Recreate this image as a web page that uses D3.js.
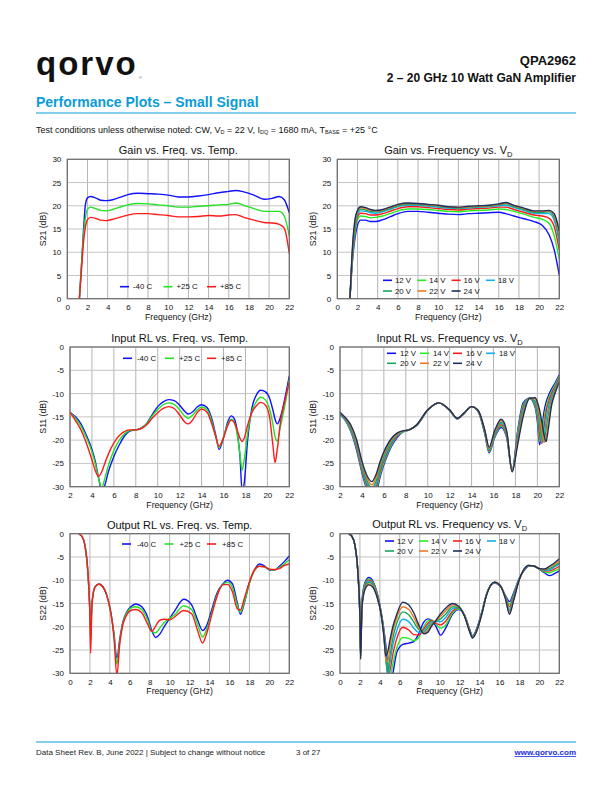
<!DOCTYPE html>
<html><head><meta charset="utf-8">
<script src="https://cdn.jsdelivr.net/npm/d3@7"></script>
<style>
body{margin:0;background:#fff}
svg{display:block}
text{font-family:"Liberation Sans",Arial,Helvetica,sans-serif}
</style>
</head><body>
<svg id="page" width="612" height="792"></svg>
<script>
// ---------------- DATA ----------------
const TEMP_LABELS = ['-40 C', '+25 C', '+85 C'];
const VD_LABELS = ['12 V', '14 V', '16 V', '18 V', '20 V', '22 V', '24 V'];
const X_TICKS_0 = [0, 2, 4, 6, 8, 10, 12, 14, 16, 18, 20, 22];
const X_TICKS_2 = [2, 4, 6, 8, 10, 12, 14, 16, 18, 20, 22];
const Y_TICKS_GAIN = [0, 5, 10, 15, 20, 25, 30];
const Y_TICKS_RL = [-30, -25, -20, -15, -10, -5, 0];

// Gain vs. Freq. vs. Temp.
const gtFreq = [1.0,1.2,1.4,1.6,1.8,2.0,2.3,2.8,3.3,3.8,4.5,5.2,6,7,8,9,10,11,12,13,14,15,16,16.7,17.5,18.5,19.5,20.3,21,21.5,22];
const gtM40 = [-8,0,7,14.5,20.3,21.7,22.0,21.7,21.2,21.1,21.3,21.8,22.4,22.7,22.6,22.5,22.3,21.9,21.9,22.1,22.4,22.8,23.1,23.3,23.0,22.3,21.4,21.6,22.0,21.3,18.5];
const gtP25 = [-8,0,7,13.5,17.5,19.2,19.7,19.4,19.0,18.9,19.2,19.7,20.2,20.5,20.4,20.2,20.0,19.7,19.7,19.9,20.0,20.2,20.3,20.6,20.1,19.4,18.8,18.8,18.8,17.8,13.5];
const gtP85 = [-8,0,6,12,15.5,17.0,17.5,17.3,16.9,16.8,17.1,17.5,18.0,18.3,18.3,18.1,17.9,17.6,17.6,17.7,17.9,17.8,18.0,18.1,17.5,16.9,16.4,16.3,16.0,15.2,9.7];

// Gain vs. Frequency vs. VD
const gvFreq = [1.0,1.25,1.5,1.75,2.0,2.3,2.8,3.3,3.8,4.5,5.2,6,7,8,9,10,11,12,13,14,15,16,16.7,17.5,18.5,19.5,20.3,21,21.5,22];
const gv12 = [-8,0,8,13,15.8,16.9,16.9,16.6,16.6,17.0,17.6,18.3,18.8,18.8,18.6,18.4,18.2,18.1,18.3,18.4,18.5,18.6,18.3,17.8,17.2,16.6,15.8,13.7,10.5,5.0];
const gv14 = [-8,0,8.5,14,17,17.8,17.7,17.4,17.5,17.8,18.3,18.9,19.3,19.3,19.2,19.0,18.8,18.7,18.9,19.0,19.1,19.3,19.2,18.8,18.2,17.5,17.1,16.2,13.5,8.5];
const gv16 = [-8,0,9,15,17.6,18.4,18.3,18.0,18.0,18.3,18.8,19.4,19.8,19.8,19.6,19.4,19.2,19.1,19.3,19.4,19.5,19.7,19.7,19.2,18.6,18.0,17.8,17.3,15.5,10.5];
const gv18 = [-8,0,9.5,15.5,18.0,18.9,18.8,18.5,18.4,18.7,19.2,19.8,20.1,20.1,19.9,19.7,19.5,19.4,19.5,19.7,19.8,20.0,20.1,19.6,19.0,18.4,18.3,18.3,16.8,12.0];
const gv20 = [-8,0,10,16,18.4,19.3,19.1,18.8,18.7,18.9,19.4,20.0,20.3,20.3,20.1,19.9,19.6,19.5,19.7,19.8,19.9,20.2,20.4,19.8,19.2,18.6,18.6,18.7,17.5,13.0];
const gv22 = [-8,0,10.5,16.5,18.7,19.6,19.4,19.0,18.9,19.1,19.6,20.2,20.5,20.4,20.2,20.0,19.7,19.6,19.8,19.9,20.0,20.3,20.6,20.0,19.4,18.8,18.8,18.9,18.0,14.0];
const gv24 = [-8,0,11,17,19.0,19.8,19.6,19.2,19.0,19.2,19.7,20.3,20.6,20.5,20.3,20.1,19.8,19.7,19.9,20.0,20.1,20.4,20.7,20.1,19.5,18.9,18.9,19.0,18.3,14.6];

// Input RL vs. Freq. vs. Temp.
const itFreq = [2,2.5,3,3.5,4,4.3,4.6,4.9,5.2,5.5,6,6.5,7,7.5,8,8.5,9,9.5,10,10.5,11,11.5,12,12.5,12.8,13.2,13.6,14,14.5,15,15.3,15.6,16,16.4,16.7,17,17.3,17.5,17.7,17.9,18.2,18.6,19,19.4,19.8,20.2,20.5,20.7,20.9,21.2,21.6,22];
const itM40 = [-14,-15,-16.5,-19,-22,-24.5,-28,-31,-29.5,-26.8,-23.5,-21,-19,-18,-17.8,-17.4,-16.4,-14.5,-12.8,-11.8,-11.3,-11.5,-12.5,-13.9,-14.4,-13.9,-12.9,-12.4,-13,-16,-19,-22,-19.5,-16,-14.8,-15.5,-19,-23.5,-31,-29,-20,-13,-10.3,-9.3,-9.6,-11,-13.5,-15.5,-16.5,-15,-11,-6.2];
const itP25 = [-14,-15.3,-17,-19.5,-22.5,-25,-28.2,-30.2,-28,-25.5,-22.2,-20,-18.6,-17.9,-17.8,-17.4,-16.5,-14.8,-13.4,-12.4,-12.0,-12.3,-13.5,-14.9,-15.3,-14.6,-13.5,-12.9,-13.5,-16.5,-19.3,-21.6,-19.3,-16.5,-15.5,-16.3,-19.5,-23,-26.5,-24,-18.5,-13.8,-11.7,-10.8,-11.3,-13.3,-16.5,-19.3,-20.2,-17,-12.5,-7];
const itP85 = [-14,-15.8,-17.8,-20.7,-24.2,-26.5,-27.8,-26.8,-24.8,-23,-20.6,-19,-18.1,-17.8,-17.8,-17.5,-16.7,-15.3,-14.1,-13.2,-12.8,-13.2,-14.6,-16.2,-16.5,-15.6,-14.1,-13.3,-14,-17,-19.3,-21.3,-19.5,-16.8,-15.7,-16.3,-18.2,-19.6,-20.3,-19.5,-16.8,-14,-12.6,-11.9,-12.4,-15,-21,-24.8,-22,-16,-11.5,-7.5];

// Input RL vs. Frequency vs. VD
const ivFreq = [2,2.5,3,3.5,4,4.5,4.9,5.3,5.7,6.2,6.7,7.2,7.7,8.3,9,10,11,12,12.7,13.3,14,14.6,15.2,15.6,16.1,16.7,17.2,17.7,18.2,18.7,19.3,19.8,20.0,20.2,20.4,20.6,20.8,21.0,21.3,21.6,22];
const iv12 = [-14.5,-15.8,-18.2,-22,-27,-31,-33,-31.5,-27.5,-24,-21.3,-19.5,-18.3,-17.8,-16.8,-13.6,-12.0,-13.6,-15.4,-14.3,-12.8,-13.9,-18.6,-22.7,-19.5,-17.3,-19.5,-26.5,-18,-12,-11.0,-13,-16,-21,-18,-14,-11.8,-10.5,-9,-7.8,-6.0];
const iv14 = [-14.4,-15.7,-18.0,-21.6,-26.6,-30.5,-32.3,-30.8,-27.0,-23.6,-21.0,-19.3,-18.3,-17.8,-16.8,-13.6,-12.0,-13.6,-15.4,-14.3,-12.8,-13.9,-18.5,-22.5,-19.3,-17.0,-19.3,-26.6,-18.5,-12.5,-11.0,-12.7,-15,-20.3,-19.5,-15.5,-12.8,-11.2,-9.5,-8.2,-6.3];
const iv16 = [-14.3,-15.6,-17.7,-21.3,-26.2,-29.9,-31.6,-30.1,-26.4,-23.2,-20.7,-19.2,-18.2,-17.8,-16.8,-13.6,-12.0,-13.6,-15.4,-14.3,-12.8,-13.8,-18.3,-22.3,-19.0,-16.7,-19.0,-26.6,-19.0,-13.0,-11.0,-12.3,-14.2,-18.8,-20.7,-17.5,-13.8,-12,-10,-8.6,-6.6];
const iv18 = [-14.3,-15.5,-17.5,-20.9,-25.8,-29.4,-31.0,-29.4,-25.9,-22.8,-20.5,-19.0,-18.2,-17.8,-16.8,-13.6,-12.0,-13.6,-15.4,-14.3,-12.8,-13.8,-18.2,-22.1,-18.8,-16.4,-18.8,-26.7,-19.5,-13.5,-11.0,-12.0,-13.5,-17,-20.5,-19.5,-15.5,-13,-10.6,-9.0,-6.9];
const iv20 = [-14.2,-15.4,-17.3,-20.5,-25.3,-28.9,-30.3,-28.7,-25.4,-22.3,-20.2,-18.8,-18.1,-17.8,-16.7,-13.5,-12.0,-13.5,-15.3,-14.2,-12.8,-13.7,-18.1,-21.9,-18.5,-16.1,-18.5,-26.7,-20.0,-14.0,-11.0,-11.6,-12.9,-15.6,-19.5,-20.3,-17.5,-14.5,-11.2,-9.4,-7.1];
const iv22 = [-14.1,-15.3,-17.0,-20.2,-24.9,-28.3,-29.6,-28.0,-24.8,-21.9,-19.9,-18.7,-18.1,-17.8,-16.7,-13.5,-12.0,-13.5,-15.3,-14.2,-12.8,-13.7,-17.9,-21.7,-18.3,-15.8,-18.3,-26.8,-20.5,-14.5,-11.0,-11.2,-12.3,-14.5,-17.8,-20.5,-19.5,-16,-11.8,-9.7,-7.3];
const iv24 = [-14.0,-15.2,-16.8,-19.8,-24.5,-27.8,-28.9,-27.3,-24.3,-21.5,-19.6,-18.5,-18.0,-17.8,-16.7,-13.5,-12.0,-13.5,-15.3,-14.2,-12.8,-13.6,-17.8,-21.5,-18.0,-15.5,-18.0,-26.8,-21,-15,-11.0,-10.9,-11.8,-13.5,-16,-18.8,-20.3,-17.5,-12.5,-10,-7.5];

// Output RL vs. Freq. vs. Temp.
const otFreq = [0.9,1.2,1.5,1.8,2.0,2.07,2.2,2.5,2.9,3.3,3.7,4.1,4.4,4.7,5.0,5.3,5.7,6.1,6.6,7.2,7.8,8.2,8.6,9.0,9.5,10.0,10.5,11.4,12.2,12.8,13.3,13.7,14.2,14.7,15.3,15.8,16.3,16.8,17.1,17.5,18.0,18.5,19.0,19.5,20.0,20.5,21.0,21.5,22.0];
const otM40 = [-0.1,-0.6,-2.5,-8.5,-17,-21,-15,-11.5,-10.8,-11.4,-13.3,-17,-21.3,-26.8,-22.5,-19,-16.8,-15.7,-15.1,-15.7,-18,-20.8,-22.3,-21.6,-19.8,-18.2,-16.6,-14.1,-15.3,-18.5,-20.8,-19.8,-16.5,-13,-10.9,-10.0,-10.8,-15.0,-17.3,-14.8,-10.5,-7.8,-6.5,-6.9,-7.8,-7.8,-7.0,-6.0,-4.8];
const otP25 = [-0.1,-0.6,-2.5,-8.5,-17.5,-23,-15,-11.5,-10.8,-11.4,-13.3,-17,-21.5,-28,-23,-19.3,-17.0,-16.0,-15.7,-16.3,-18.6,-21,-21.3,-20.3,-19.0,-18.2,-17.4,-15.5,-16.3,-19.5,-22.2,-20.6,-17.2,-13.5,-11.0,-10.4,-11.6,-15.5,-16.9,-14.6,-10.6,-8.0,-7.0,-7.1,-7.7,-7.8,-7.3,-6.5,-5.6];
const otP85 = [-0.1,-0.6,-2.5,-8.5,-18,-25.7,-15.5,-11.5,-10.8,-11.4,-13.3,-17,-22,-30.5,-23.5,-19.6,-17.4,-16.5,-16.3,-17.0,-19.5,-21.0,-19.8,-18.6,-18.4,-18.5,-17.9,-16.5,-17.2,-20.8,-23.5,-21.5,-17.6,-13.8,-11.0,-10.9,-12.5,-16.2,-16.4,-13.8,-10.4,-7.8,-7.0,-7.1,-7.6,-7.7,-7.5,-6.8,-6.5];

// Output RL vs. Frequency vs. VD
const ovFreq = [0.9,1.2,1.5,1.8,2.0,2.07,2.2,2.5,2.9,3.3,3.7,4.1,4.4,4.6,4.8,5.0,5.3,5.7,6.3,6.9,7.4,7.9,8.4,8.8,9.2,9.6,10.1,10.6,11.3,11.9,12.5,13.0,13.3,13.7,14.2,14.7,15.5,16.1,16.6,17.0,17.4,18.0,18.5,18.9,19.5,20.0,20.5,21.0,21.5,22.0];
const ov12 = [-0.1,-0.6,-2.5,-8.5,-18,-24,-14.5,-10.5,-9.4,-10.2,-12.5,-16.5,-20.5,-24,-28.5,-32,-30,-25.5,-23.8,-23.5,-23.2,-21.5,-19.0,-18.3,-18.6,-19.8,-21.8,-20.3,-17.3,-16.3,-17.5,-20.5,-22.0,-20.5,-17.0,-13.0,-10.6,-11.3,-13.3,-14.6,-12.8,-9.5,-7.8,-7.0,-7.0,-7.6,-8.4,-9.0,-8.6,-8.0];
const ov14 = [-0.1,-0.6,-2.5,-8.5,-18,-25.5,-15,-10.8,-9.7,-10.4,-12.7,-16.6,-21,-25,-29.5,-31,-28,-24.5,-22.3,-22.5,-23.0,-22.3,-20.0,-18.8,-18.6,-19.4,-20.3,-19.6,-17.0,-16.2,-17.5,-20.6,-22.1,-20.6,-17.1,-13.0,-10.5,-11.3,-13.5,-15.2,-13.2,-9.6,-7.7,-6.9,-7.0,-7.6,-8.2,-8.4,-8.0,-7.5];
const ov16 = [-0.1,-0.6,-2.5,-8.5,-18,-26,-15.3,-11.1,-10.0,-10.6,-12.9,-16.7,-21.2,-26,-30.5,-29.5,-26,-22.5,-20.1,-20.7,-21.7,-21.8,-20.5,-19.3,-18.7,-19.2,-19.6,-18.8,-16.6,-16.0,-17.6,-20.7,-22.2,-20.7,-17.2,-13.0,-10.5,-11.3,-13.6,-15.7,-13.5,-9.7,-7.7,-6.9,-7.0,-7.6,-8.0,-8.0,-7.6,-7.0];
const ov18 = [-0.1,-0.6,-2.5,-8.5,-18,-26.3,-15.5,-11.3,-10.2,-10.8,-13.1,-16.8,-21.4,-26.5,-30.8,-28,-24,-20.8,-18.4,-18.9,-20.3,-21.2,-20.9,-19.8,-18.9,-18.9,-18.9,-18.0,-16.1,-15.9,-17.6,-20.8,-22.2,-20.8,-17.3,-13.1,-10.5,-11.2,-13.7,-16.3,-13.8,-9.7,-7.6,-6.9,-7.0,-7.6,-7.9,-7.8,-7.2,-6.5];
const ov20 = [-0.1,-0.6,-2.5,-8.5,-18,-26.5,-15.7,-11.5,-10.5,-11.0,-13.3,-16.9,-21.6,-27,-29.5,-26.5,-22.5,-19.2,-16.8,-17.4,-19.0,-20.6,-21.2,-20.3,-19.2,-18.8,-18.3,-17.3,-15.7,-15.8,-17.7,-20.9,-22.3,-20.9,-17.4,-13.1,-10.4,-11.2,-13.8,-16.7,-14.1,-9.7,-7.6,-6.8,-7.0,-7.5,-7.8,-7.5,-6.9,-6.2];
const ov22 = [-0.1,-0.6,-2.5,-8.5,-18,-26.8,-15.9,-11.8,-10.8,-11.3,-13.4,-17.0,-21.8,-27,-27.5,-24.5,-21,-18,-15.7,-16.3,-18.0,-20.1,-21.4,-20.8,-19.5,-18.7,-17.7,-16.6,-15.3,-15.7,-17.7,-21.0,-22.3,-21.0,-17.5,-13.2,-10.4,-11.2,-13.9,-17.0,-14.3,-9.8,-7.5,-6.8,-7.0,-7.5,-7.7,-7.2,-6.6,-5.8];
const ov24 = [-0.1,-0.6,-2.5,-8.5,-18,-27,-16,-12,-11.0,-11.5,-13.5,-17,-22,-26.3,-25.3,-23,-20,-17.3,-14.7,-15.3,-17.0,-19.6,-21.5,-21.2,-19.8,-18.7,-17.2,-16.0,-15.0,-15.6,-17.8,-21.0,-22.4,-21.0,-17.5,-13.2,-10.4,-11.2,-14.0,-17.3,-14.5,-9.8,-7.5,-6.8,-7.0,-7.5,-7.6,-7.0,-6.3,-5.4];

// ---------------- STYLE ----------------
const TEMP_COLORS = ['#1010ff', '#22e022', '#ff1a1a'];
const VD_COLORS = ['#1010ff', '#22ee22', '#ff1a1a', '#14aee8', '#16a85a', '#f07a22', '#1c2f5e'];
const FONT = '"Liberation Sans", Arial, Helvetica, sans-serif';

const svg = d3.select('#page');
const defs = svg.append('defs');

// ---------------- HEADER ----------------
svg.append('text').attr('x', 36).attr('y', 75).attr('font-family', '"DejaVu Sans", sans-serif')
  .attr('font-weight', 700).attr('font-size', 33).attr('letter-spacing', 2).attr('fill', '#111').text('qorvo');
svg.append('text').attr('x', 139).attr('y', 79).attr('font-size', 4).attr('fill', '#555').text('®');
svg.append('text').attr('x', 576).attr('y', 65).attr('text-anchor', 'end').attr('font-size', 13)
  .attr('font-weight', 700).attr('fill', '#111').text('QPA2962');
svg.append('text').attr('x', 576).attr('y', 82).attr('text-anchor', 'end').attr('font-size', 12)
  .attr('font-weight', 700).attr('fill', '#111').text('2 \u2013 20 GHz 10 Watt GaN Amplifier');
svg.append('text').attr('x', 36).attr('y', 107).attr('font-size', 14).attr('font-weight', 700)
  .attr('fill', '#0a9bd8').text('Performance Plots \u2013 Small Signal');
svg.append('line').attr('x1', 36).attr('x2', 576).attr('y1', 113).attr('y2', 113)
  .attr('stroke', '#0a9bd8').attr('stroke-width', 1.2);

const tc = svg.append('text').attr('x', 36).attr('y', 133).attr('font-size', 9).attr('fill', '#111');
const tcParts = [['Test conditions unless otherwise noted: CW, V', false], ['D', true], [' = 22 V, I', false], ['DQ', true],
  [' = 1680 mA, T', false], ['BASE', true], [' = +25 \u00B0C', false]];
tcParts.forEach(([t, sub], i) => {
  const ts = tc.append('tspan').text(t);
  if (sub) ts.attr('font-size', 5.5).attr('dy', 1); else if (i > 0) ts.attr('dy', -1);
});

// ---------------- FOOTER ----------------
svg.append('line').attr('x1', 36).attr('x2', 576).attr('y1', 742).attr('y2', 742)
  .attr('stroke', '#0a9bd8').attr('stroke-width', 1);
svg.append('text').attr('x', 36).attr('y', 755).attr('font-size', 8).attr('fill', '#222')
  .text('Data Sheet Rev. B, June 2022 | Subject to change without notice');
svg.append('text').attr('x', 296).attr('y', 755).attr('font-size', 8).attr('fill', '#222').text('3 of 27');
svg.append('text').attr('x', 576).attr('y', 755).attr('text-anchor', 'end').attr('font-size', 8)
  .attr('font-weight', 700).attr('fill', '#1a2ee0').attr('text-decoration', 'underline').text('www.qorvo.com');

// ---------------- CHARTS ----------------
function drawChart(o) {
  const x = d3.scaleLinear().domain(o.xDomain).range([o.left, o.right]);
  const y = d3.scaleLinear().domain(o.yDomain).range([o.bottom, o.top]);
  const g = svg.append('g');
  const clipId = 'clip-' + o.id;
  defs.append('clipPath').attr('id', clipId).append('rect')
    .attr('x', o.left).attr('y', o.top).attr('width', o.right - o.left).attr('height', o.bottom - o.top);

  // grid
  g.append('g').selectAll('line').data(o.xTicks).join('line')
    .attr('x1', d => x(d)).attr('x2', d => x(d)).attr('y1', o.top).attr('y2', o.bottom)
    .attr('stroke', '#b4b4b4').attr('stroke-width', 1);
  g.append('g').selectAll('line').data(o.yTicks).join('line')
    .attr('x1', o.left).attr('x2', o.right).attr('y1', d => y(d)).attr('y2', d => y(d))
    .attr('stroke', '#c4c4c4').attr('stroke-width', 1);

  // lines
  const line = d3.line().x((d, i) => x(o.freq[i])).y(d => y(d)).curve(d3.curveMonotoneX);
  g.append('g').attr('clip-path', `url(#${clipId})`).selectAll('path').data(o.series).join('path')
    .attr('d', s => line(s.values)).attr('fill', 'none').attr('stroke', s => s.color)
    .attr('stroke-width', 1.4).attr('stroke-linejoin', 'round');

  // frame
  g.append('rect').attr('x', o.left).attr('y', o.top).attr('width', o.right - o.left)
    .attr('height', o.bottom - o.top).attr('fill', 'none').attr('stroke', '#6a6a6a').attr('stroke-width', 1.2);

  // axes
  const xa = g.append('g').attr('transform', `translate(0,${o.bottom})`)
    .call(d3.axisBottom(x).tickValues(o.xTicks).tickSize(0).tickPadding(6).tickFormat(d => String(d)));
  xa.select('.domain').remove();
  xa.attr('font-family', FONT).attr('font-size', 8);
  xa.selectAll('text').attr('fill', '#111');
  const ya = g.append('g').attr('transform', `translate(${o.left},0)`)
    .call(d3.axisLeft(y).tickValues(o.yTicks).tickSize(0).tickPadding(6).tickFormat(d => String(d)));
  ya.select('.domain').remove();
  ya.attr('font-family', FONT).attr('font-size', 8);
  ya.selectAll('text').attr('fill', '#111');

  // axis titles
  g.append('text').attr('x', (o.left + o.right) / 2).attr('y', o.bottom + 21).attr('text-anchor', 'middle')
    .attr('font-size', 8.7).attr('fill', '#111').text('Frequency (GHz)');
  g.append('text').attr('transform', `translate(${o.left - o.yLabelOff},${(o.top + o.bottom) / 2}) rotate(-90)`)
    .attr('text-anchor', 'middle').attr('dy', '0.35em').attr('font-size', 8.7).attr('fill', '#111').text(o.yLabel);

  // title
  const t = g.append('text').attr('x', (o.left + o.right) / 2).attr('y', o.top - o.titleOff)
    .attr('text-anchor', 'middle').attr('font-size', 11).attr('fill', '#111');
  t.append('tspan').text(o.title);
  if (o.titleSub) t.append('tspan').attr('font-size', 7.5).attr('dy', 3).text(o.titleSub);

  // legend
  const L = o.legend;
  const items = g.append('g').selectAll('g').data(o.series).join('g')
    .attr('transform', (s, i) => `translate(${o.left + L.x + (i % L.cols) * L.dx},${o.top + L.y + Math.floor(i / L.cols) * L.dy})`);
  items.append('line').attr('x1', 0).attr('x2', 9).attr('y1', 0).attr('y2', 0)
    .attr('stroke', s => s.color).attr('stroke-width', 1.6);
  items.append('text').attr('x', L.tx).attr('y', 0).attr('dy', '0.35em').attr('font-size', 7.8)
    .attr('fill', '#111').text(s => s.name);
}

function mk(names, colors, arrays) {
  return arrays.map((v, i) => ({ name: names[i], color: colors[i], values: v }));
}

drawChart({
  id: 'gt', left: 67.3, right: 289.3, top: 159.3, bottom: 298.7,
  xDomain: [0, 22], yDomain: [0, 30], xTicks: X_TICKS_0, yTicks: Y_TICKS_GAIN,
  freq: gtFreq, series: mk(TEMP_LABELS, TEMP_COLORS, [gtM40, gtP25, gtP85]),
  title: 'Gain vs. Freq. vs. Temp.', titleOff: 5, yLabel: 'S21 (dB)', yLabelOff: 24.6,
  legend: { x: 52.7, y: 127.4, cols: 3, dx: 43.5, dy: 0, tx: 13 }
});
drawChart({
  id: 'gv', left: 337.3, right: 559.3, top: 159.3, bottom: 298.7,
  xDomain: [0, 22], yDomain: [0, 30], xTicks: X_TICKS_0, yTicks: Y_TICKS_GAIN,
  freq: gvFreq, series: mk(VD_LABELS, VD_COLORS, [gv12, gv14, gv16, gv18, gv20, gv22, gv24]),
  title: 'Gain vs. Frequency vs. V', titleSub: 'D', titleOff: 5, yLabel: 'S21 (dB)', yLabelOff: 24.6,
  legend: { x: 45.7, y: 121, cols: 4, dx: 34.3, dy: 10.7, tx: 12 }
});
drawChart({
  id: 'it', left: 70, right: 289.3, top: 347, bottom: 486.7,
  xDomain: [2, 22], yDomain: [-30, 0], xTicks: X_TICKS_2, yTicks: Y_TICKS_RL,
  freq: itFreq, series: mk(TEMP_LABELS, TEMP_COLORS, [itM40, itP25, itP85]),
  title: 'Input RL vs. Freq. vs. Temp.', titleOff: 4.7, yLabel: 'S11 (dB)', yLabelOff: 27,
  legend: { x: 53, y: 11.3, cols: 3, dx: 42, dy: 0, tx: 14 }
});
drawChart({
  id: 'iv', left: 340, right: 559.3, top: 347, bottom: 486.7,
  xDomain: [2, 22], yDomain: [-30, 0], xTicks: X_TICKS_2, yTicks: Y_TICKS_RL,
  freq: ivFreq, series: mk(VD_LABELS, VD_COLORS, [iv12, iv14, iv16, iv18, iv20, iv22, iv24]),
  title: 'Input RL vs. Frequency vs. V', titleSub: 'D', titleOff: 5.5, yLabel: 'S11 (dB)', yLabelOff: 27.3,
  legend: { x: 47, y: 6.3, cols: 4, dx: 33, dy: 10, tx: 13 }
});
drawChart({
  id: 'ot', left: 70, right: 289.3, top: 533.7, bottom: 673.3,
  xDomain: [0, 22], yDomain: [-30, 0], xTicks: X_TICKS_0, yTicks: Y_TICKS_RL,
  freq: otFreq, series: mk(TEMP_LABELS, TEMP_COLORS, [otM40, otP25, otP85]),
  title: 'Output RL vs. Freq. vs. Temp.', titleOff: 4.7, yLabel: 'S22 (dB)', yLabelOff: 27,
  legend: { x: 52, y: 10.3, cols: 3, dx: 42.5, dy: 0, tx: 15 }
});
drawChart({
  id: 'ov', left: 340, right: 559.3, top: 533.7, bottom: 673.3,
  xDomain: [0, 22], yDomain: [-30, 0], xTicks: X_TICKS_0, yTicks: Y_TICKS_RL,
  freq: ovFreq, series: mk(VD_LABELS, VD_COLORS, [ov12, ov14, ov16, ov18, ov20, ov22, ov24]),
  title: 'Output RL vs. Frequency vs. V', titleSub: 'D', titleOff: 5.5, yLabel: 'S22 (dB)', yLabelOff: 27.3,
  legend: { x: 45, y: 7.3, cols: 4, dx: 34, dy: 10, tx: 12 }
});
</script>
</body></html>
